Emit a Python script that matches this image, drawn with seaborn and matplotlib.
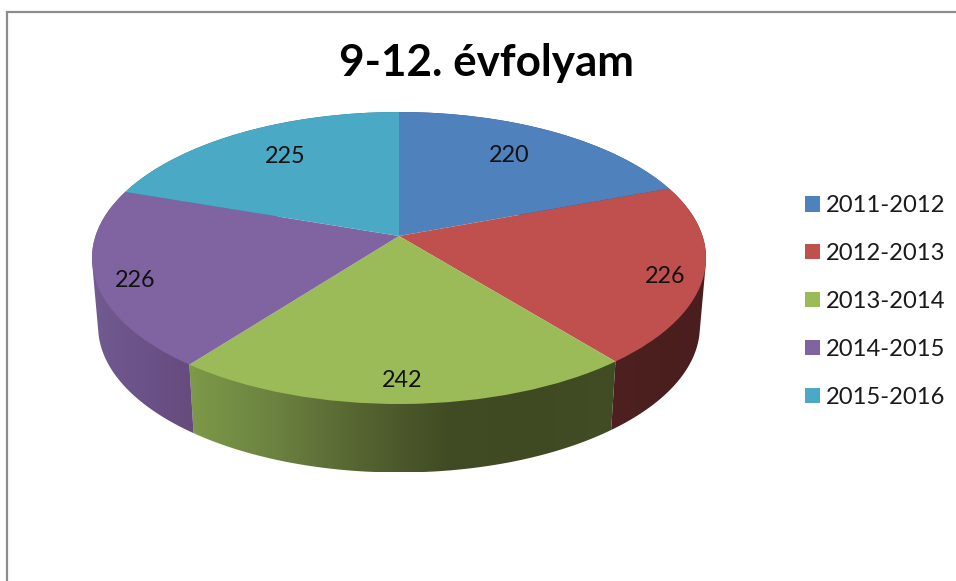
import numpy as np
import matplotlib
matplotlib.use("Agg")
import matplotlib.pyplot as plt
from matplotlib.colors import LinearSegmentedColormap
from matplotlib.patches import Polygon
from matplotlib.transforms import Transform
import seaborn as sns

title = "9-12. évfolyam"
years = ["2011-2012", "2012-2013", "2013-2014", "2014-2015", "2015-2016"]
values = [220, 226, 242, 226, 225]

top_colors = ["#4f81bd", "#c0504d", "#9bbb59", "#8064a2", "#4aa9c4"]
wall_colors = [
    ["#30507a", "#30507a"],
    ["#4e2020", "#4a1e1e"],
    ["#7e9949", "#6b8240", "#566431", "#414c24", "#3f4a22", "#424d25"],
    ["#715b91", "#6b5288", "#664b7d"],
    ["#2d7488", "#2d7488"],
]
label_radius = [0.75, 0.87, 0.87, 0.87, 0.75]
label_nudge = [(-9, 0), (2, 7), (-1, 2), (-1, 7), (7, 0)]

# pie tilt, everything in pixels of the 956x581 picture
CX, CY = 399, 236
RX, TILT, PERSP = 303.5, -107.1, 0.1507
WALL, WALL_SCALE = 68.5, 0.98


class DiskTilt(Transform):
    input_dims = 2
    output_dims = 2

    def transform_non_affine(self, xy):
        xy = np.asarray(xy, dtype=float)
        w = 1 + PERSP * xy[:, 1]
        return np.column_stack([CX + RX * xy[:, 0] / w, (CY + TILT * xy[:, 1]) / w])


def hull(points):
    # monotone chain, the wall outline is the hull of top and bottom rim
    pts = sorted(map(tuple, points))

    def half(seq):
        out = []
        for p in seq:
            while len(out) > 1 and np.cross(np.subtract(out[-1], out[-2]), np.subtract(p, out[-2])) <= 0:
                out.pop()
            out.append(p)
        return out[:-1]

    return np.array(half(pts) + half(pts[::-1]))


sns.set_theme(style="white")
plt.rcParams["font.family"] = ["Lato", "DejaVu Sans"]
tilt = DiskTilt()

fig, ax = plt.subplots(figsize=(9.56, 5.81), dpi=100)
fig.subplots_adjust(0, 0, 1, 1)

wedges, _ = ax.pie(values, colors=sns.color_palette(top_colors), startangle=90,
                   counterclock=False, wedgeprops={"linewidth": 0, "zorder": 3})
ax.set_aspect("auto")
ax.axis("off")

for wedge in wedges:
    wedge.set_transform(tilt + ax.transData)

# side walls, a left to right gradient clipped to each slice's rim
for wedge, stops in zip(wedges, wall_colors):
    ang = np.radians(90 - np.linspace(wedge.theta2, wedge.theta1, 120))
    rim = tilt.transform_non_affine(np.column_stack([np.sin(ang), np.cos(ang)]))
    low = np.column_stack([CX + (rim[:, 0] - CX) * WALL_SCALE, rim[:, 1] + WALL])
    outline = hull(np.vstack([rim, low]))
    cmap = LinearSegmentedColormap.from_list("wall", stops)
    im = ax.imshow(np.linspace(0, 1, 256)[None, :], cmap=cmap, aspect="auto",
                   extent=(outline[:, 0].min(), outline[:, 0].max(),
                           outline[:, 1].max(), outline[:, 1].min()), zorder=2)
    clip = Polygon(outline, transform=ax.transData, facecolor="none", edgecolor="none")
    ax.add_patch(clip)
    im.set_clip_path(clip)
ax.set_xlim(0, 956)
ax.set_ylim(581, 0)

# value labels, around the slice middles
for wedge, val, r, nudge in zip(wedges, values, label_radius, label_nudge):
    mid = np.radians(90 - (wedge.theta1 + wedge.theta2) / 2)
    x, y = tilt.transform_non_affine(np.array([[r * np.sin(mid), r * np.cos(mid)]]))[0]
    ax.text(x + nudge[0], y + nudge[1], str(val), ha="center", va="center",
            fontsize=16.8, color="#111111", zorder=5)

ax.text(486.5, 63, title, ha="center", va="center", fontsize=31.7, fontweight="bold", color="black")

ax.legend(wedges, years, loc="center left", bbox_to_anchor=(793, 301.5), bbox_transform=ax.transData,
          frameon=False, fontsize=17.1, handlelength=0.62, handleheight=0.62,
          handletextpad=0.26, labelspacing=1.13, borderpad=0, labelcolor="#1a1a1a")

# chart frame, runs off the right and bottom of the picture
ax.plot([7.3, 7.3, 956], [581, 11.5, 11.5], color="#8c8c8c", lw=1.6, solid_joinstyle="miter", zorder=6)

fig.savefig("out.png", dpi=100, facecolor="white")
